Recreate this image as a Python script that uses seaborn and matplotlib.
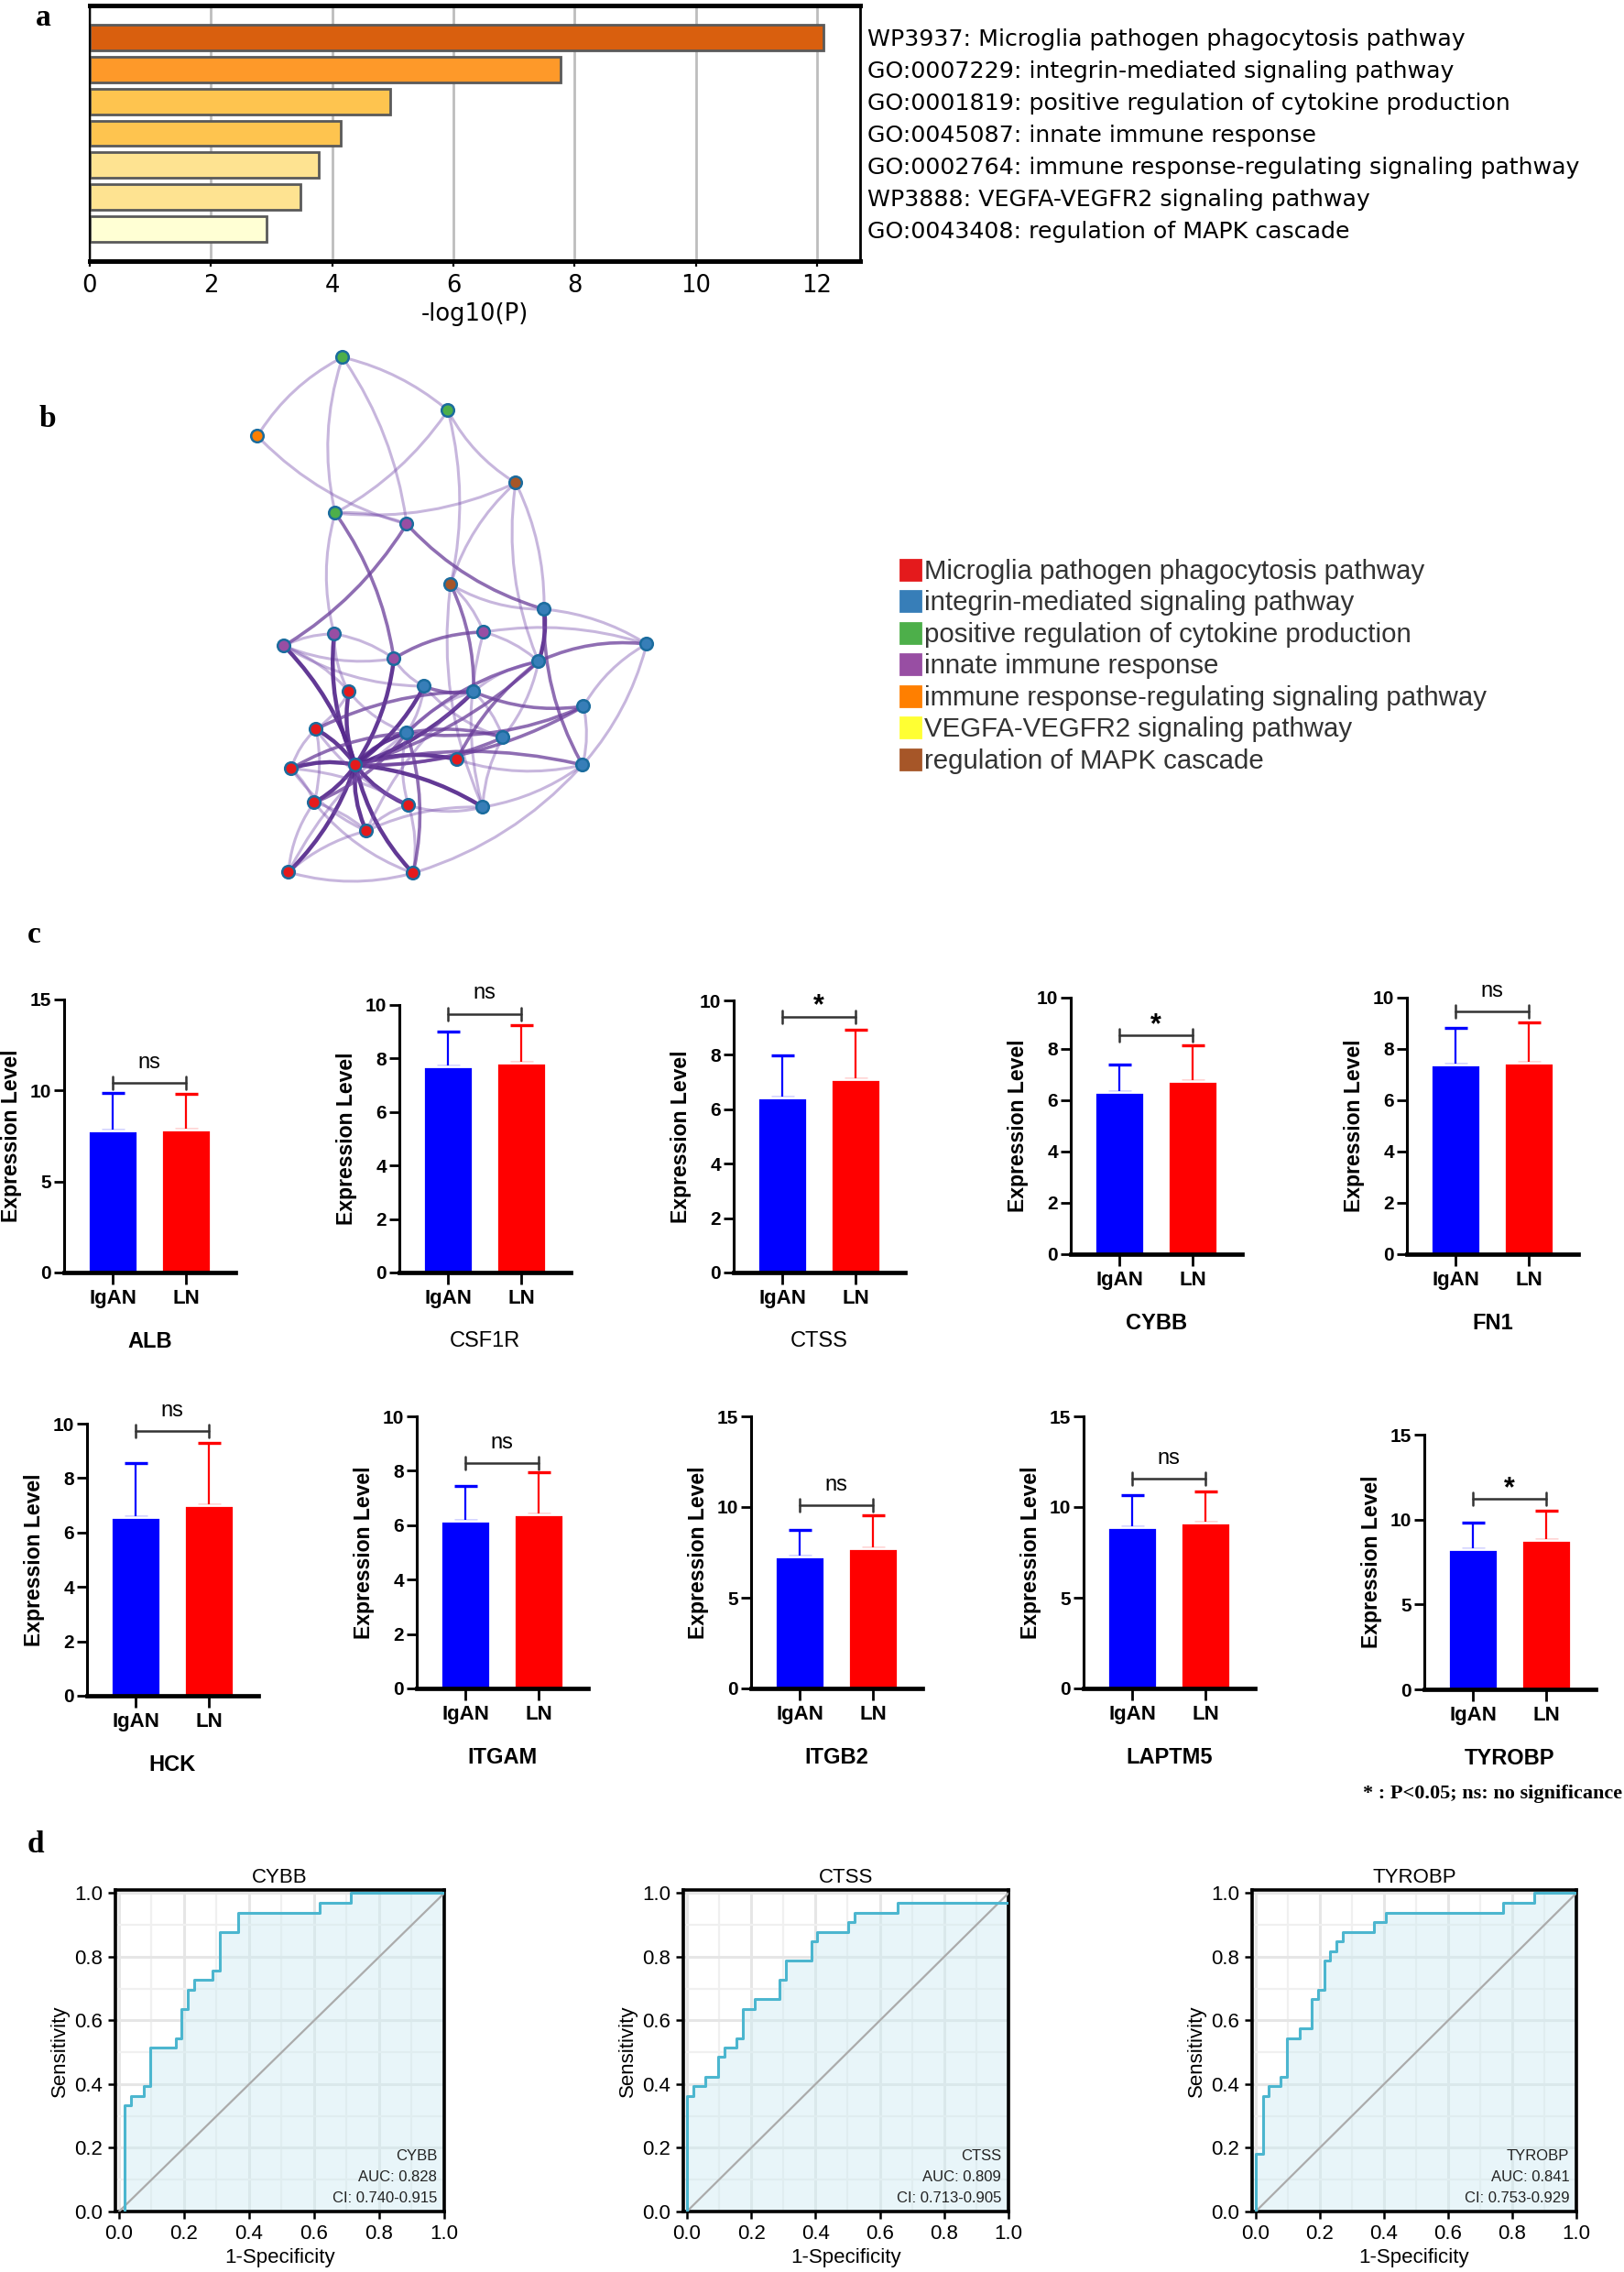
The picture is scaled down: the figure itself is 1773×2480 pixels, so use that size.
import numpy as np
import matplotlib
matplotlib.use("Agg")
import matplotlib.pyplot as plt
from matplotlib.lines import Line2D
from matplotlib.patches import FancyArrowPatch
import matplotlib.ticker as ticker
import seaborn as sns

# ---------------- data ----------------
# panel a: enrichment
enrich_terms = ["WP3937: Microglia pathogen phagocytosis pathway",
                "GO:0007229: integrin-mediated signaling pathway",
                "GO:0001819: positive regulation of cytokine production",
                "GO:0045087: innate immune response",
                "GO:0002764: immune response-regulating signaling pathway",
                "WP3888: VEGFA-VEGFR2 signaling pathway",
                "GO:0043408: regulation of MAPK cascade"]
enrich_logp = [12.1, 7.77, 4.95, 4.14, 3.78, 3.47, 2.92]
enrich_colors = ["#D95F0E", "#FE9929", "#FEC44F", "#FEC44F", "#FEE391", "#FEE391", "#FFFFD4"]

# panel b: network (layout units as in the picture)
node_x = [374, 489, 281, 563, 366, 444, 492, 594, 528, 706, 310, 365, 430, 588, 381, 463,
          517, 637, 345, 444, 549, 499, 388, 318, 636, 343, 446, 527, 400, 315, 451]
node_y = [390, 448, 476, 527, 560, 572, 638, 665, 690, 703, 705, 692, 719, 722, 755, 749,
          755, 771, 796, 800, 805, 829, 835, 839, 835, 876, 879, 881, 907, 952, 953]
node_group = [2, 2, 4, 6, 2, 3, 6, 1, 3, 1, 3, 3, 3, 1, 0, 1,
              1, 1, 0, 1, 1, 0, 0, 0, 1, 0, 0, 1, 0, 0, 0]
edges = [(0, 2, 1), (0, 1, 1), (0, 4, 1), (0, 5, 1), (2, 5, 1), (1, 4, 1), (1, 3, 1), (1, 6, 1),
         (4, 3, 1), (4, 5, 1), (3, 6, 1), (3, 7, 1), (3, 13, 1), (4, 12, 2), (4, 11, 1),
         (5, 10, 2), (5, 7, 2), (6, 16, 2), (6, 27, 1), (6, 8, 1), (6, 7, 1), (7, 13, 3),
         (7, 24, 2), (7, 9, 1), (8, 12, 2), (8, 13, 1), (8, 27, 1), (8, 9, 1), (9, 13, 2),
         (9, 24, 1), (9, 17, 1), (10, 11, 1), (10, 12, 1), (10, 22, 3), (10, 15, 1), (10, 14, 1),
         (11, 22, 3), (11, 12, 1), (11, 14, 1), (12, 22, 3), (13, 19, 2), (13, 22, 2), (13, 16, 1),
         (13, 20, 1), (14, 22, 3), (15, 22, 3), (15, 16, 2), (15, 19, 1), (15, 20, 1), (16, 22, 3),
         (16, 17, 2), (16, 20, 1), (16, 19, 1), (17, 24, 1), (19, 17, 2), (18, 22, 3), (18, 23, 1),
         (18, 25, 1), (19, 22, 3), (19, 20, 2), (19, 26, 1), (20, 22, 2), (21, 22, 3), (21, 13, 2),
         (22, 23, 3), (22, 25, 3), (22, 26, 3), (22, 27, 3), (22, 28, 3), (22, 29, 3), (22, 30, 3),
         (23, 25, 1), (23, 28, 1), (24, 27, 1), (25, 29, 1), (25, 28, 1), (26, 28, 1), (26, 30, 1),
         (26, 27, 1), (27, 20, 1), (29, 30, 1), (29, 28, 1), (30, 24, 1), (14, 18, 1), (12, 15, 1),
         (22, 24, 2), (22, 17, 2), (23, 19, 2), (25, 19, 2), (18, 16, 2), (14, 19, 1), (28, 16, 1),
         (30, 19, 2), (29, 19, 1), (18, 26, 1), (23, 26, 1), (25, 30, 1), (28, 27, 1), (21, 24, 1)]
cluster_names = ["Microglia pathogen phagocytosis pathway", "integrin-mediated signaling pathway",
                 "positive regulation of cytokine production", "innate immune response",
                 "immune response-regulating signaling pathway", "VEGFA-VEGFR2 signaling pathway",
                 "regulation of MAPK cascade"]
cluster_colors = ["#E41A1C", "#377EB8", "#4DAF4A", "#984EA3", "#FF7F00", "#FFFF33", "#A65628"]

# panel c: expression
genes = ["ALB", "CSF1R", "CTSS", "CYBB", "FN1", "HCK", "ITGAM", "ITGB2", "LAPTM5", "TYROBP"]
groups = ["IgAN", "LN"]
igan_mean = [7.79, 7.71, 6.44, 6.31, 7.41, 6.58, 6.17, 7.26, 8.91, 8.24]
igan_sd = [2.06, 1.29, 1.54, 1.09, 1.40, 1.98, 1.26, 1.48, 1.74, 1.58]
ln_mean = [7.87, 7.84, 7.10, 6.74, 7.48, 7.02, 6.41, 7.73, 9.13, 8.80]
ln_sd = [1.96, 1.40, 1.83, 1.39, 1.54, 2.28, 1.52, 1.80, 1.74, 1.72]
y_max = [15, 10, 10, 10, 10, 10, 10, 15, 15, 15]
y_step = [5, 2, 2, 2, 2, 2, 2, 5, 5, 5]
sig = ["ns", "ns", "*", "*", "ns", "ns", "ns", "ns", "ns", "*"]
bracket_y = [10.43, 9.67, 9.4, 8.52, 9.45, 9.73, 8.27, 10.1, 11.56, 11.22]
gene_bold = [True, False, False, True, True, True, True, True, True, True]

# panel d: ROC step corners (1-specificity, sensitivity)
roc_genes = ["CYBB", "CTSS", "TYROBP"]
roc_fpr = [
    [0.018, 0.036, 0.077, 0.096, 0.175, 0.192, 0.211, 0.230, 0.288, 0.309, 0.367, 0.617, 0.713, 1.0],
    [0.0, 0.019, 0.058, 0.097, 0.117, 0.154, 0.174, 0.212, 0.289, 0.308, 0.387, 0.405, 0.501, 0.521, 0.654, 1.0],
    [0.0, 0.022, 0.040, 0.078, 0.098, 0.137, 0.176, 0.194, 0.214, 0.233, 0.253, 0.271, 0.368, 0.406, 0.772, 0.868, 1.0],
]
roc_tpr = [
    [0.333, 0.364, 0.394, 0.515, 0.545, 0.636, 0.697, 0.727, 0.758, 0.879, 0.939, 0.970, 1.0, 1.0],
    [0.364, 0.394, 0.424, 0.485, 0.515, 0.545, 0.636, 0.667, 0.727, 0.788, 0.848, 0.879, 0.909, 0.939, 0.970, 0.970],
    [0.182, 0.364, 0.394, 0.424, 0.545, 0.576, 0.667, 0.697, 0.788, 0.818, 0.848, 0.879, 0.909, 0.939, 0.970, 1.0, 1.0],
]
roc_auc = ["0.828", "0.809", "0.841"]
roc_ci = ["0.740-0.915", "0.713-0.905", "0.753-0.929"]

# ---------------- style ----------------
sns.set_style("white")
plt.rcParams["font.family"] = ["Liberation Sans", "DejaVu Sans"]
plt.rcParams.update({"axes.edgecolor": "black", "text.color": "black", "axes.labelcolor": "black",
                     "xtick.color": "black", "ytick.color": "black",
                     "xtick.bottom": True, "ytick.left": True})
NARROW = ["Liberation Sans Narrow", "Liberation Sans"]
SERIF = ["Liberation Serif", "DejaVu Serif"]
BLUE, RED = "#0000FF", "#FF0000"

W, H = 1774, 2480


def px_rect(l, t, r, b):
    return [l / W, 1 - b / H, (r - l) / W, (b - t) / H]


fig = plt.figure(figsize=(W / 200, H / 200), dpi=200)

# ---------------- a ----------------
ax = fig.add_axes(px_rect(98, 6, 939, 285))
sns.barplot(x=enrich_logp, y=enrich_terms, hue=enrich_terms, palette=enrich_colors, orient="h",
            saturation=1, width=0.8, edgecolor="#5A5A5A", linewidth=1.0, legend=False, ax=ax)
ax.set_xlim(0, 12.71)
ax.set_ylim(7, -1)
ax.xaxis.set_major_locator(ticker.MultipleLocator(2))
ax.grid(axis="x", color="#BDBDBD", lw=1.0)
ax.set_axisbelow(True)
ax.yaxis.tick_right()
ax.tick_params(axis="y", length=0, pad=3, labelsize=9.1)
ax.tick_params(axis="x", length=2, width=0.8, labelsize=9.3, pad=3)
for lab in ax.get_xticklabels() + ax.get_yticklabels():
    lab.set_family("DejaVu Sans")
ax.set_ylabel("")
ax.set_xlabel("-log10(P)", fontsize=9.3, family="DejaVu Sans", labelpad=2)
for s, lw in zip(["top", "bottom", "left", "right"], [1.8, 1.8, 0.8, 1.0]):
    ax.spines[s].set_linewidth(lw)
fig.text(47 / W, 1 - 20 / H, "a", family=SERIF, weight="bold", fontsize=12, ha="center", va="center")

# ---------------- b ----------------
axb = fig.add_axes(px_rect(240, 360, 760, 980))
axb.set_xlim(240, 760)
axb.set_ylim(980, 360)
axb.axis("off")
edge_style = {1: ("#7B52AE", 0.42, 1.1), 2: ("#6A3D9A", 0.75, 1.3), 3: ("#55288C", 0.92, 1.6)}
for k, (a, b, w) in enumerate(edges):
    col, al, lw = edge_style[w]
    rad = 0.14 if k % 2 == 0 else -0.12
    p = FancyArrowPatch((node_x[a], node_y[a]), (node_x[b], node_y[b]), arrowstyle="-",
                        connectionstyle=f"arc3,rad={rad}", color=col, alpha=al, lw=lw, zorder=2)
    axb.add_patch(p)
axb.scatter(node_x, node_y, s=24, c=[cluster_colors[g] for g in node_group],
            edgecolors="#1B6C9E", linewidths=0.9, zorder=5)
handles = [Line2D([], [], marker="s", ls="", markersize=7.6, markerfacecolor=c, markeredgecolor=c)
           for c in cluster_colors]
fig.legend(handles, cluster_names, loc="upper left", bbox_to_anchor=(984 / W, 1 - 610 / H),
           frameon=False, fontsize=10.6, handlelength=0.65, handletextpad=0.2, labelspacing=0.22,
           borderaxespad=0, borderpad=0, labelcolor="#333333")
fig.text(52 / W, 1 - 458 / H, "b", family=SERIF, weight="bold", fontsize=12, ha="center", va="center")

# ---------------- c ----------------
c_rects = [(70, 1091, 257, 1389), (436, 1097, 623, 1389), (801, 1092, 988, 1389),
           (1169, 1089, 1356, 1369), (1536, 1089, 1723, 1369),
           (95, 1554, 282, 1851), (455, 1546, 642, 1843), (820, 1546, 1007, 1843),
           (1183, 1546, 1370, 1843), (1555, 1566, 1742, 1844)]
for i, g in enumerate(genes):
    r = c_rects[i]
    ax = fig.add_axes(px_rect(*r))
    sns.barplot(x=groups, y=[igan_mean[i], ln_mean[i]], hue=groups, palette=[BLUE, RED],
                saturation=1, width=0.67, legend=False, ax=ax, zorder=2)
    for j, (m, sd, col) in enumerate([(igan_mean[i], igan_sd[i], BLUE), (ln_mean[i], ln_sd[i], RED)]):
        ax.errorbar([j], [m], yerr=[[0], [sd]], fmt="none", ecolor=col, elinewidth=0.8,
                    capsize=4.5, capthick=1.2, zorder=1)
    ax.set_xlim(-0.66, 1.67)
    ax.set_ylim(0, y_max[i])
    ax.set_yticks(np.arange(0, y_max[i] + 0.1, y_step[i]))
    sns.despine(ax=ax)
    ax.spines["left"].set_linewidth(1.1)
    ax.spines["bottom"].set_linewidth(1.7)
    ax.tick_params(axis="y", direction="out", length=4, width=1.0, labelsize=7.5, pad=1)
    ax.tick_params(axis="x", direction="out", length=4.5, width=1.0, labelsize=8, pad=2)
    for lab in ax.get_xticklabels() + ax.get_yticklabels():
        lab.set_family(NARROW)
        lab.set_fontweight("bold")
    ax.set_ylabel("Expression Level", fontsize=8.3, fontweight="bold", labelpad=3)
    ax.set_xlabel(g, fontsize=8.5, family=NARROW, fontweight="bold" if gene_bold[i] else "normal",
                  labelpad=9)
    by = bracket_y[i]
    d = 7 / (r[3] - r[1]) * y_max[i]
    ax.plot([0, 1], [by, by], color="#333333", lw=0.9, clip_on=False)
    ax.plot([0, 0], [by - d, by + d], color="#333333", lw=0.9, clip_on=False)
    ax.plot([1, 1], [by - d, by + d], color="#333333", lw=0.9, clip_on=False)
    if sig[i] == "*":
        ax.annotate("*", xy=(0.5, by), xytext=(0, 4), textcoords="offset points", ha="center",
                    va="center", fontsize=11, fontweight="bold", annotation_clip=False)
    else:
        ax.annotate("ns", xy=(0.5, by), xytext=(0, 8), textcoords="offset points", ha="center",
                    va="center", fontsize=8.5, family=NARROW, annotation_clip=False)
fig.text(37 / W, 1 - 1020 / H, "c", family=SERIF, weight="bold", fontsize=12, ha="center", va="center")
fig.text(1771 / W, 1 - 1958 / H, "* : P<0.05; ns: no significance", family=SERIF, weight="bold",
         fontsize=8, ha="right", va="center")

# ---------------- d ----------------
d_rects = [(126, 2063, 485, 2414), (746, 2063, 1101, 2414), (1367, 2063, 1721, 2414)]
for i, g in enumerate(roc_genes):
    ax = fig.add_axes(px_rect(*d_rects[i]))
    x = [roc_fpr[i][0]] + roc_fpr[i]
    y = [0.0] + roc_tpr[i]
    ax.set_xlim(-0.011, 1.0)
    ax.set_ylim(0, 1.01)
    ax.xaxis.set_major_locator(ticker.MultipleLocator(0.2))
    ax.yaxis.set_major_locator(ticker.MultipleLocator(0.2))
    ax.xaxis.set_minor_locator(ticker.MultipleLocator(0.1))
    ax.yaxis.set_minor_locator(ticker.MultipleLocator(0.1))
    ax.xaxis.set_major_formatter(ticker.FormatStrFormatter("%.1f"))
    ax.yaxis.set_major_formatter(ticker.FormatStrFormatter("%.1f"))
    ax.grid(which="major", color="#E6E6E6", lw=1.1)
    ax.grid(which="minor", color="#F0F0F0", lw=0.8)
    ax.set_axisbelow(True)
    ax.fill_between(x, y, step="post", color="#CDEBF2", alpha=0.45, lw=0, zorder=2)
    ax.axline((0, 0), slope=1, color="#ABABAB", lw=0.8, zorder=3)
    ax.plot(x, y, drawstyle="steps-post", color="#4CB6CF", lw=1.1, zorder=4)
    for s in ax.spines.values():
        s.set_linewidth(1.3)
    ax.tick_params(which="major", length=3, width=0.9, labelsize=8, pad=2)
    ax.tick_params(which="minor", length=0)
    ax.set_title(g, fontsize=8, pad=3)
    ax.set_xlabel("1-Specificity", fontsize=8, labelpad=2)
    ax.set_ylabel("Sensitivity", fontsize=8, labelpad=2)
    for k, t in enumerate([g, "AUC: " + roc_auc[i], "CI: " + roc_ci[i]]):
        ax.text(0.978, 0.175 - 0.066 * k, t, ha="right", va="center", fontsize=6, color="#222222")
fig.text(39 / W, 1 - 2013 / H, "d", family=SERIF, weight="bold", fontsize=12, ha="center", va="center")

fig.savefig("out.png", dpi=200, facecolor="white")
